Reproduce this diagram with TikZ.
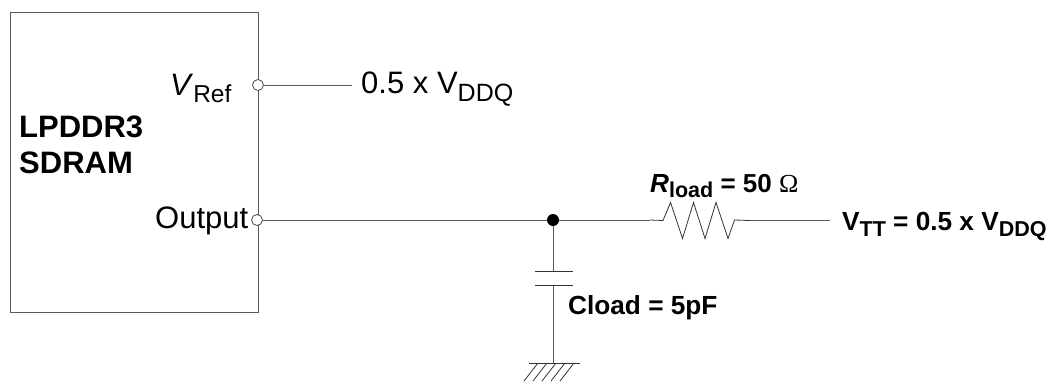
\documentclass[tikz,border=0pt]{standalone}
\usepackage{fontspec}
\setmainfont{Liberation Sans}
\newfontfamily\omegafont{Liberation Serif}
\newcommand{\lowered}[3]{\raisebox{-#1pt}{\fontsize{#2}{#2}\selectfont #3}}
\tikzset{
  wire/.style={line width=1pt,color=black!65},
  thinwire/.style={line width=0.8pt,color=black!80},
  pin/.style={circle,draw=black!70,fill=white,line width=0.8pt,inner sep=0pt,minimum size=11pt},
  plainlabel/.style={inner sep=0pt,anchor=base west,font=\fontsize{31}{36}\selectfont},
  chiplabelstyle/.style={inner sep=0pt,anchor=base west,font=\fontsize{31}{36}\selectfont\bfseries},
  boldlabel/.style={inner sep=0pt,anchor=base west,font=\fontsize{26.2}{30}\selectfont\bfseries}
}
\begin{document}
\begin{tikzpicture}[x=1pt,y=-1pt]
   \useasboundingbox (0,0) rectangle (1051,381);
   \node[draw=black!65,line width=1pt,inner sep=0pt,minimum width=248pt,minimum height=300pt,anchor=north west] (chip) at (9.5,12) {};
   \node[pin] (vrefpin) at (258,85) {};
   \node[pin] (outpin) at (257,220) {};
   \coordinate (vrefend) at (351.5,85);
   \node[circle,fill=black,inner sep=0pt,minimum size=12pt] (junction) at (553,220) {};
   \coordinate (resleft) at (650,220);
   \coordinate (resright) at (750,220.5);
   \coordinate (vttend) at (830,220.5);
   \coordinate (platetop) at (553,271.5);
   \coordinate (platebottom) at (553,285.5);
   \coordinate (gnd) at (553,363);
   % labels
   \node[plainlabel] (vreflabel) at (170,95) {\textit{V}\lowered{7}{24.5}{Ref}};
   \node[plainlabel] (outputlabel) at (155,228) {Output};
   \node[plainlabel] (vddqlabel) at (361,93) {0.5 x V\lowered{8}{25}{DDQ}};
   \node[chiplabelstyle] (lpddrlabel) at (19,137) {LPDDR3};
   \node[chiplabelstyle] (sdramlabel) at (19,173.5) {SDRAM};
   \node[boldlabel] (rload) at (650,192) {\textit{R}\lowered{5.5}{21.5}{load} \fontsize{26}{30}\selectfont = 50 {\omegafont\mdseries Ω}};
   \node[boldlabel] (vtt) at (842,230) {V\lowered{6}{21.5}{TT} = 0.5 x V\lowered{6}{21.5}{DDQ}};
   \node[boldlabel] (cload) at (568,314) {Cload = 5pF};
   % wires
   \draw[wire] (vrefpin) -- (vrefend);
   \draw[wire] (outpin) -- (junction) -- (resleft);
   \draw[thinwire] (resleft) -- (663,220.5) -- (670.5,202.5) -- (682.5,238.5) -- (693.5,202.5) -- (705,238.5) -- (716,202.5) -- (728,238.5) -- (734.5,220) -- (resright);
   \draw[wire] (resright) -- (vttend);
   \draw[wire] (junction) -- (platetop);
   \draw[wire] (platebottom) -- (gnd);
   \draw[thinwire] (535,271.5) -- (573,271.5);
   \draw[thinwire] (535,285.5) -- (573,285.5);
   \draw[thinwire] (529,363) -- (580,363);
   \foreach \x in {538,547,556,565,574}
     \draw[thinwire] (\x,363) -- (\x-14,381);
\end{tikzpicture}
\end{document}
